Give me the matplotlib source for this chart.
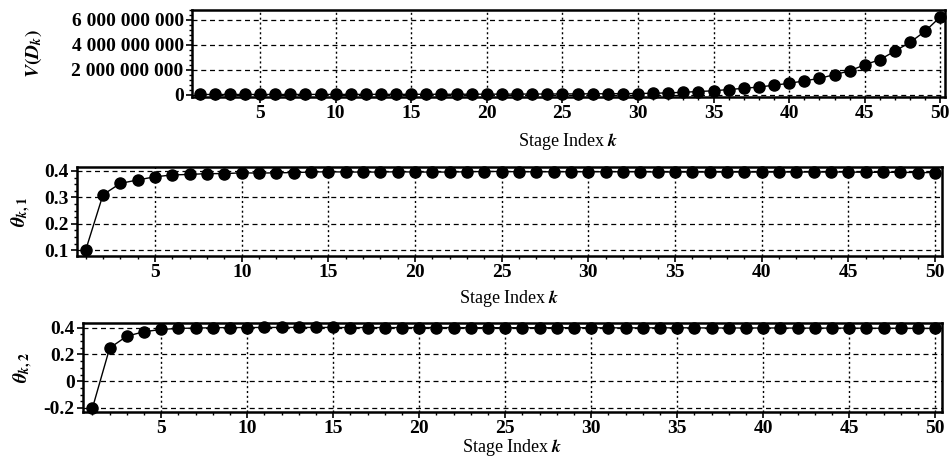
#!/usr/bin/env python
# Three stacked panels: value function V(D_k) and the two parameter
# estimates theta_k1, theta_k2 versus the stage index k.

from matplotlib import pyplot as plt
from matplotlib.ticker import FuncFormatter, MultipleLocator, AutoMinorLocator
import numpy as np
import matplotlib

matplotlib.rcParams.update({'font.family': 'Liberation Serif',
                            'font.weight': 'bold',
                            'font.size': 14,
                            'mathtext.fontset': 'stix'})

k = np.arange(1, 51)

# V(D_k), in units of 1e9
v_dk = [0.002, 0.002, 0.003, 0.003, 0.004, 0.004, 0.005, 0.006, 0.007, 0.008,
        0.009, 0.010, 0.012, 0.013, 0.015, 0.017, 0.019, 0.021, 0.024, 0.027,
        0.030, 0.033, 0.037, 0.041, 0.046, 0.051, 0.057, 0.063, 0.070, 0.080,
        0.10, 0.13, 0.18, 0.24, 0.30, 0.40, 0.50, 0.60, 0.75, 0.90,
        1.10, 1.30, 1.60, 1.90, 2.40, 2.80, 3.50, 4.20, 5.10, 6.25]

theta1 = [0.100, 0.310, 0.353, 0.366, 0.378, 0.385, 0.387, 0.390, 0.390, 0.393,
          0.392, 0.393, 0.394, 0.396, 0.397, 0.396, 0.396, 0.396, 0.397, 0.396,
          0.396, 0.396, 0.397, 0.398, 0.398, 0.397, 0.397, 0.397, 0.397, 0.397,
          0.397, 0.397, 0.397, 0.396, 0.396, 0.396, 0.396, 0.396, 0.396, 0.396,
          0.396, 0.396, 0.396, 0.396, 0.396, 0.395, 0.395, 0.395, 0.394, 0.394]

theta2 = [-0.200, 0.248, 0.337, 0.370, 0.387, 0.395, 0.397, 0.400, 0.401, 0.401,
          0.402, 0.402, 0.402, 0.402, 0.402, 0.401, 0.401, 0.401, 0.401, 0.401,
          0.401, 0.401, 0.400, 0.400, 0.400, 0.400, 0.400, 0.400, 0.400, 0.400,
          0.399, 0.399, 0.399, 0.399, 0.399, 0.399, 0.398, 0.398, 0.398, 0.398,
          0.398, 0.397, 0.397, 0.397, 0.397, 0.396, 0.396, 0.396, 0.395, 0.395]


def style_axes(ax, xlim, ylim, labelpad):
    ax.set_xlim(*xlim)
    ax.set_ylim(*ylim)
    ax.xaxis.set_major_locator(MultipleLocator(5))
    ax.xaxis.set_minor_locator(MultipleLocator(1))
    ax.yaxis.set_minor_locator(AutoMinorLocator(4))
    ax.grid(True, axis='x', color='black', linestyle=(0, (1.5, 2)), linewidth=1.0)
    ax.grid(True, axis='y', color='black', linestyle=(0, (4, 3)), linewidth=0.9)
    ax.tick_params(which='major', direction='out', length=4, width=1.2, pad=2)
    ax.tick_params(which='minor', direction='out', length=2.5, width=1)
    for s in ax.spines.values():
        s.set_linewidth(1.8)
    ax.set_xlabel(r'Stage Index $\boldsymbol{k}$', fontsize=13, labelpad=labelpad)


fig = plt.figure(figsize=(9.53, 4.61), dpi=100)

ax1 = fig.add_axes([0.2015, 0.7896, 0.790, 0.1887])
ax1.plot(k, np.array(v_dk) * 1e9, 'k-o', markersize=8, linewidth=1, clip_on=False)
style_axes(ax1, (0.5, 50.3), (-0.2e9, 6.8e9), 6)
ax1.set_yticks([0, 2e9, 4e9, 6e9])
ax1.yaxis.set_minor_locator(MultipleLocator(0.4e9))
ax1.yaxis.set_major_formatter(FuncFormatter(lambda v, p: '{:,.0f}'.format(v).replace(',', ' ')))
ax1.set_ylabel(r'$V(D_k)$', fontsize=14, labelpad=20)

ax2 = fig.add_axes([0.0808, 0.4447, 0.9077, 0.193])
ax2.plot(k, theta1, 'k-o', markersize=8, linewidth=1, clip_on=False)
style_axes(ax2, (0.5, 50.4), (0.078, 0.415), 5)
ax2.set_yticks([0.1, 0.2, 0.3, 0.4])
ax2.set_ylabel(r'$\theta_{k,1}$', fontsize=14, labelpad=8)

ax3 = fig.add_axes([0.0871, 0.1063, 0.9014, 0.193])
ax3.plot(k, theta2, 'k-o', markersize=8, linewidth=1, clip_on=False)
style_axes(ax3, (0.45, 50.4), (-0.23, 0.435), 0)
ax3.set_yticks([-0.2, 0, 0.2, 0.4])
ax3.yaxis.set_major_formatter(FuncFormatter(lambda v, p: '0' if abs(v) < 1e-9 else '%.1f' % v))
ax3.set_ylabel(r'$\theta_{k,2}$', fontsize=14, labelpad=6)

plt.savefig('out.png', dpi=100)
